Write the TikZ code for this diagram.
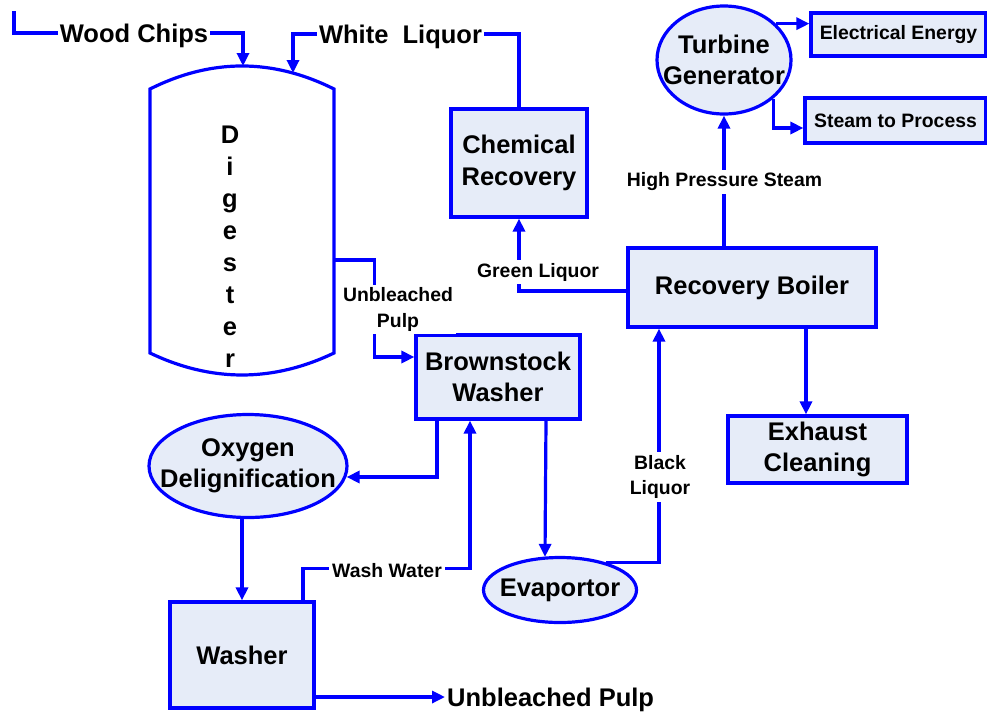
\documentclass[tikz,border=0pt]{standalone}
\usepackage{fontspec}
\setmainfont{Liberation Sans}
\usetikzlibrary{shapes,calc,arrows.meta}
\definecolor{flowblue}{RGB}{0,0,255}
\definecolor{boxfill}{RGB}{230,236,248}
\newcommand{\unitfont}{\fontsize{25.5pt}{31.5pt}\selectfont\bfseries}
\newcommand{\lblfont}{\fontsize{19.4pt}{25.5pt}\selectfont\bfseries}

\begin{document}
\begin{tikzpicture}[x=1pt,y=-1pt]
	\tikzstyle{unit_box}=[draw=flowblue, fill=boxfill, line width=3.2pt, inner sep=0pt, align=center, font=\unitfont];
	\tikzstyle{unit_ell}=[ellipse, draw=flowblue, fill=boxfill, line width=3.2pt, inner sep=0pt];
	\tikzstyle{unit_txt}=[align=center, font=\unitfont];
	\tikzstyle{stream_lbl}=[fill=white, inner sep=3pt, align=center, font=\lblfont];
	\tikzstyle{term_txt}=[font=\unitfont, inner sep=2pt, text height=18.4pt, text depth=0pt];
	\tikzstyle{pipe}=[draw=flowblue, line width=3.2pt];
	\tikzstyle{flow}=[pipe, -{Triangle[length=13pt, width=12pt]}];

	\useasboundingbox (0,0) rectangle (987,713);

	% digester vessel
	\draw[pipe] (150,89) .. controls (211.3,58.3) and (272.7,58.3) .. (334,89) -- (334,353)
		.. controls (272.7,382.3) and (211.3,382.3) .. (150,353) -- cycle;
	\node[minimum width=184pt, minimum height=264pt, inner sep=0pt] (dig) at (242,221) {};
	\foreach \ch [count=\k from 0] in {D,i,g,e,s,t,e,r}
		\node[unit_txt, anchor=base] (dig_\k) at (230,{143+32.1*\k}) {\ch};
	\coordinate (chips_in) at (14,11);
	\coordinate (chips_end) at (243,66);
	\coordinate (liq_end) at (293,73);

	% units
	\node[unit_box, minimum width=136pt, minimum height=108pt] (chem_rec) at (519,163) {Chemical\\Recovery};
	\node[unit_ell, minimum width=134pt, minimum height=108pt, label={[unit_txt]center:{Turbine\\Generator}}] (turb_gen) at (724,60) {};
	\node[unit_box, font=\lblfont, minimum width=175pt, minimum height=43pt] (elec_en) at (898.5,34.5) {Electrical Energy};
	\node[unit_box, font=\lblfont, minimum width=181pt, minimum height=45pt] (steam_proc) at (895.5,120.5) {Steam to Process};
	\node[unit_box, minimum width=248pt, minimum height=79pt] (rec_boil) at (752,287.5) {Recovery Boiler};
	\node[unit_box, minimum width=179pt, minimum height=67pt] (exh_clean) at (817.5,449.5) {Exhaust\\Cleaning};
	\node[unit_box, minimum width=164pt, minimum height=84pt] (brown_wash) at (498,377) {Brownstock\\Washer};
	\node[unit_ell, minimum width=198pt, minimum height=103pt, label={[unit_txt]center:{Oxygen\\Delignification}}] (oxy_del) at (248,466) {};
	\node[unit_box, minimum width=144pt, minimum height=106pt] (washer) at (242,655) {Washer};
	\node[unit_ell, minimum width=153pt, minimum height=65pt, label={[unit_txt]center:Evaportor}] (evap) at (560,590) {};

	% feeds and product
	\node[term_txt] (wood) at (134,33) {Wood Chips};
	\node[term_txt] (white_liq) at (400.5,34) {White\ \ Liquor};
	\node[term_txt, anchor=west] (pulp_out) at (445,697) {Unbleached Pulp};

	% streams
	\draw[pipe] (chips_in) |- (wood.west);
	\draw[flow] (wood.east) -| (chips_end);
	\draw[pipe] (chem_rec.north) |- (white_liq.east);
	\draw[flow] (white_liq.west) -| (liq_end);
	\draw[flow] ($(dig.east)+(0,39)$) -- ++(40,0) |- ($(brown_wash.west)+(0,-20)$);
	\draw[flow] ($(brown_wash.south)+(-61,0)$) |- ($(oxy_del.east)+(-2,11)$);
	\draw[flow] (oxy_del.south -| washer.north) -- (washer.north);
	\draw[flow] ($(washer.north)+(61,0)$) -- ++(0,-32) -| ($(brown_wash.south)+(-28,0)$);
	\draw[flow] (washer.east |- pulp_out.west) -- (pulp_out.west);
	\draw[flow] ($(brown_wash.south)+(48,0)$) -- ($(evap.north)+(-15,1)$);
	\draw[flow] (evap.31) -| ($(rec_boil.south)+(-93,0)$);
	\draw[flow] ($(rec_boil.south)+(54,0)$) -- ($(exh_clean.north)+(-11.5,0)$);
	\draw[flow] ($(rec_boil.west)+(0,3.5)$) -| (chem_rec.south);
	\draw[flow] (rec_boil.north -| turb_gen.south) -- (turb_gen.south);
	\draw[flow] (turb_gen.35) -- (turb_gen.35 -| elec_en.west);
	\draw[flow] (turb_gen.-38) |- ($(steam_proc.west)+(0,7.5)$);

	% stream labels
	\node[stream_lbl] (lbl_pulp) at (398,309.5) {Unbleached\\Pulp};
	\node[stream_lbl] (lbl_green) at (538,272) {Green Liquor};
	\node[stream_lbl] (lbl_hps) at (724.5,182) {High Pressure Steam};
	\node[stream_lbl] (lbl_black) at (660,477) {Black\\Liquor};
	\node[stream_lbl] (lbl_wash) at (387,571) {Wash Water};
\end{tikzpicture}
\end{document}
